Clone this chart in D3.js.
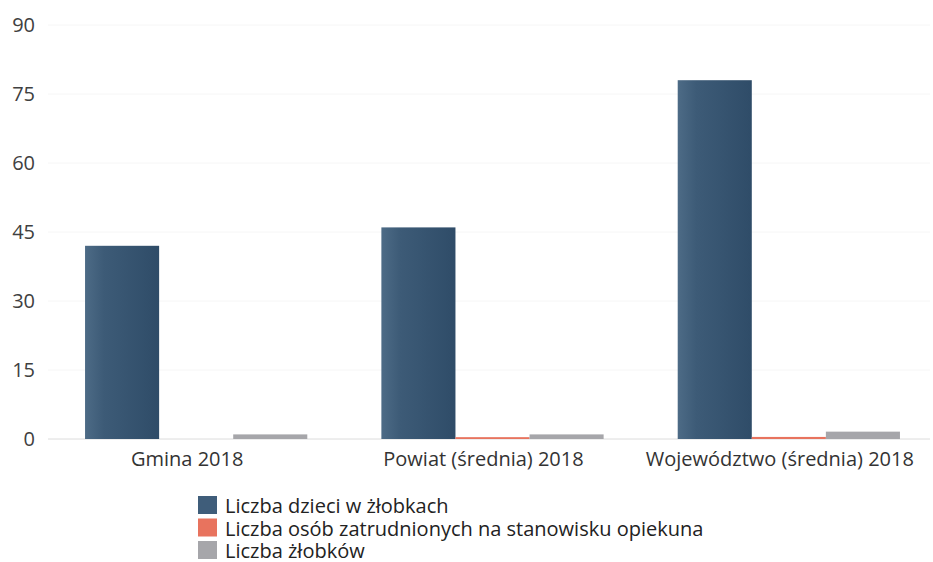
<!DOCTYPE html>
<html>
<head>
<meta charset="utf-8">
<script src="https://cdn.jsdelivr.net/npm/d3@7/dist/d3.min.js"></script>
<style>
  body { margin: 0; background: #fff; }
  svg { display: block; font-family: "Open Sans", "Noto Sans", sans-serif; }
</style>
</head>
<body>
<svg id="chart" width="933" height="562"></svg>
<script>
const categories = ["Gmina 2018", "Powiat (średnia) 2018", "Województwo (średnia) 2018"];
const seriesNames = [
  "Liczba dzieci w żłobkach",
  "Liczba osób zatrudnionych na stanowisku opiekuna",
  "Liczba żłobków"
];
const dzieci = [42, 46, 78];
const opiekunowie = [0, 0.4, 0.45];
const zlobki = [1, 1, 1.6];
const yTicks = [0, 15, 30, 45, 60, 75, 90];

const colors = ["url(#blueGrad)", "#e8735e", "#a6a6aa"];
const legendColors = ["#3f5d7a", "#e8735e", "#a6a6aa"];

const svg = d3.select("#chart");
const margin = { top: 25, bottom: 123, left: 48, right: -4 };
const width = 933, height = 562;

const defs = svg.append("defs");
const grad = defs.append("linearGradient").attr("id", "blueGrad")
  .attr("x1", "0%").attr("x2", "100%").attr("y1", "0%").attr("y2", "0%");
grad.append("stop").attr("offset", "0%").attr("stop-color", "#4d6b86");
grad.append("stop").attr("offset", "25%").attr("stop-color", "#3d5b77");
grad.append("stop").attr("offset", "100%").attr("stop-color", "#2f4c68");

const x0 = d3.scaleBand().domain(categories)
  .range([margin.left, width - margin.right])
  .paddingInner(0.25).paddingOuter(0.125);
const x1 = d3.scaleBand().domain(d3.range(3)).range([0, x0.bandwidth()]);
const y = d3.scaleLinear().domain([0, 90]).range([height - margin.bottom, margin.top]);

// faint grid
svg.append("g").selectAll("line").data(yTicks.filter(d => d > 0)).join("line")
  .attr("x1", margin.left).attr("x2", width - 3)
  .attr("y1", d => y(d)).attr("y2", d => y(d))
  .attr("stroke", "#f6f6f6").attr("stroke-width", 1);

// baseline
svg.append("line")
  .attr("x1", margin.left).attr("x2", width - 3)
  .attr("y1", y(0)).attr("y2", y(0))
  .attr("stroke", "#dcdcdc").attr("stroke-width", 1);

// y labels
svg.append("g").selectAll("text").data(yTicks).join("text")
  .attr("x", 35).attr("y", d => y(d)).attr("dy", "0.35em")
  .attr("text-anchor", "end").attr("font-size", 20).attr("fill", "#404040")
  .text(d => d);

// bars
const rows = categories.map((c, i) => ({ cat: c, vals: [dzieci[i], opiekunowie[i], zlobki[i]] }));
const groups = svg.append("g").selectAll("g").data(rows).join("g")
  .attr("transform", d => `translate(${x0(d.cat)},0)`);
groups.selectAll("rect").data(d => d.vals.map((v, k) => ({ v, k }))).join("rect")
  .attr("x", d => x1(d.k))
  .attr("width", x1.bandwidth())
  .attr("y", d => y(d.v))
  .attr("height", d => y(0) - y(d.v))
  .attr("fill", d => colors[d.k]);

// x labels
svg.append("g").selectAll("text").data(categories).join("text")
  .attr("x", d => x0(d) + x0.bandwidth() / 2 - 9)
  .attr("y", 466)
  .attr("text-anchor", "middle").attr("font-size", 20).attr("fill", "#333")
  .text(d => d);

// legend
const legend = svg.append("g").attr("transform", "translate(198,496)");
const items = legend.selectAll("g").data(seriesNames).join("g")
  .attr("transform", (d, i) => `translate(0,${i * 22.5})`);
items.append("rect").attr("x", 0).attr("y", 0).attr("width", 19).attr("height", 18)
  .attr("fill", (d, i) => legendColors[i]);
items.append("text").attr("x", 27).attr("y", 17)
  .attr("font-size", 20).attr("fill", "#222")
  .text(d => d);
</script>
</body>
</html>
